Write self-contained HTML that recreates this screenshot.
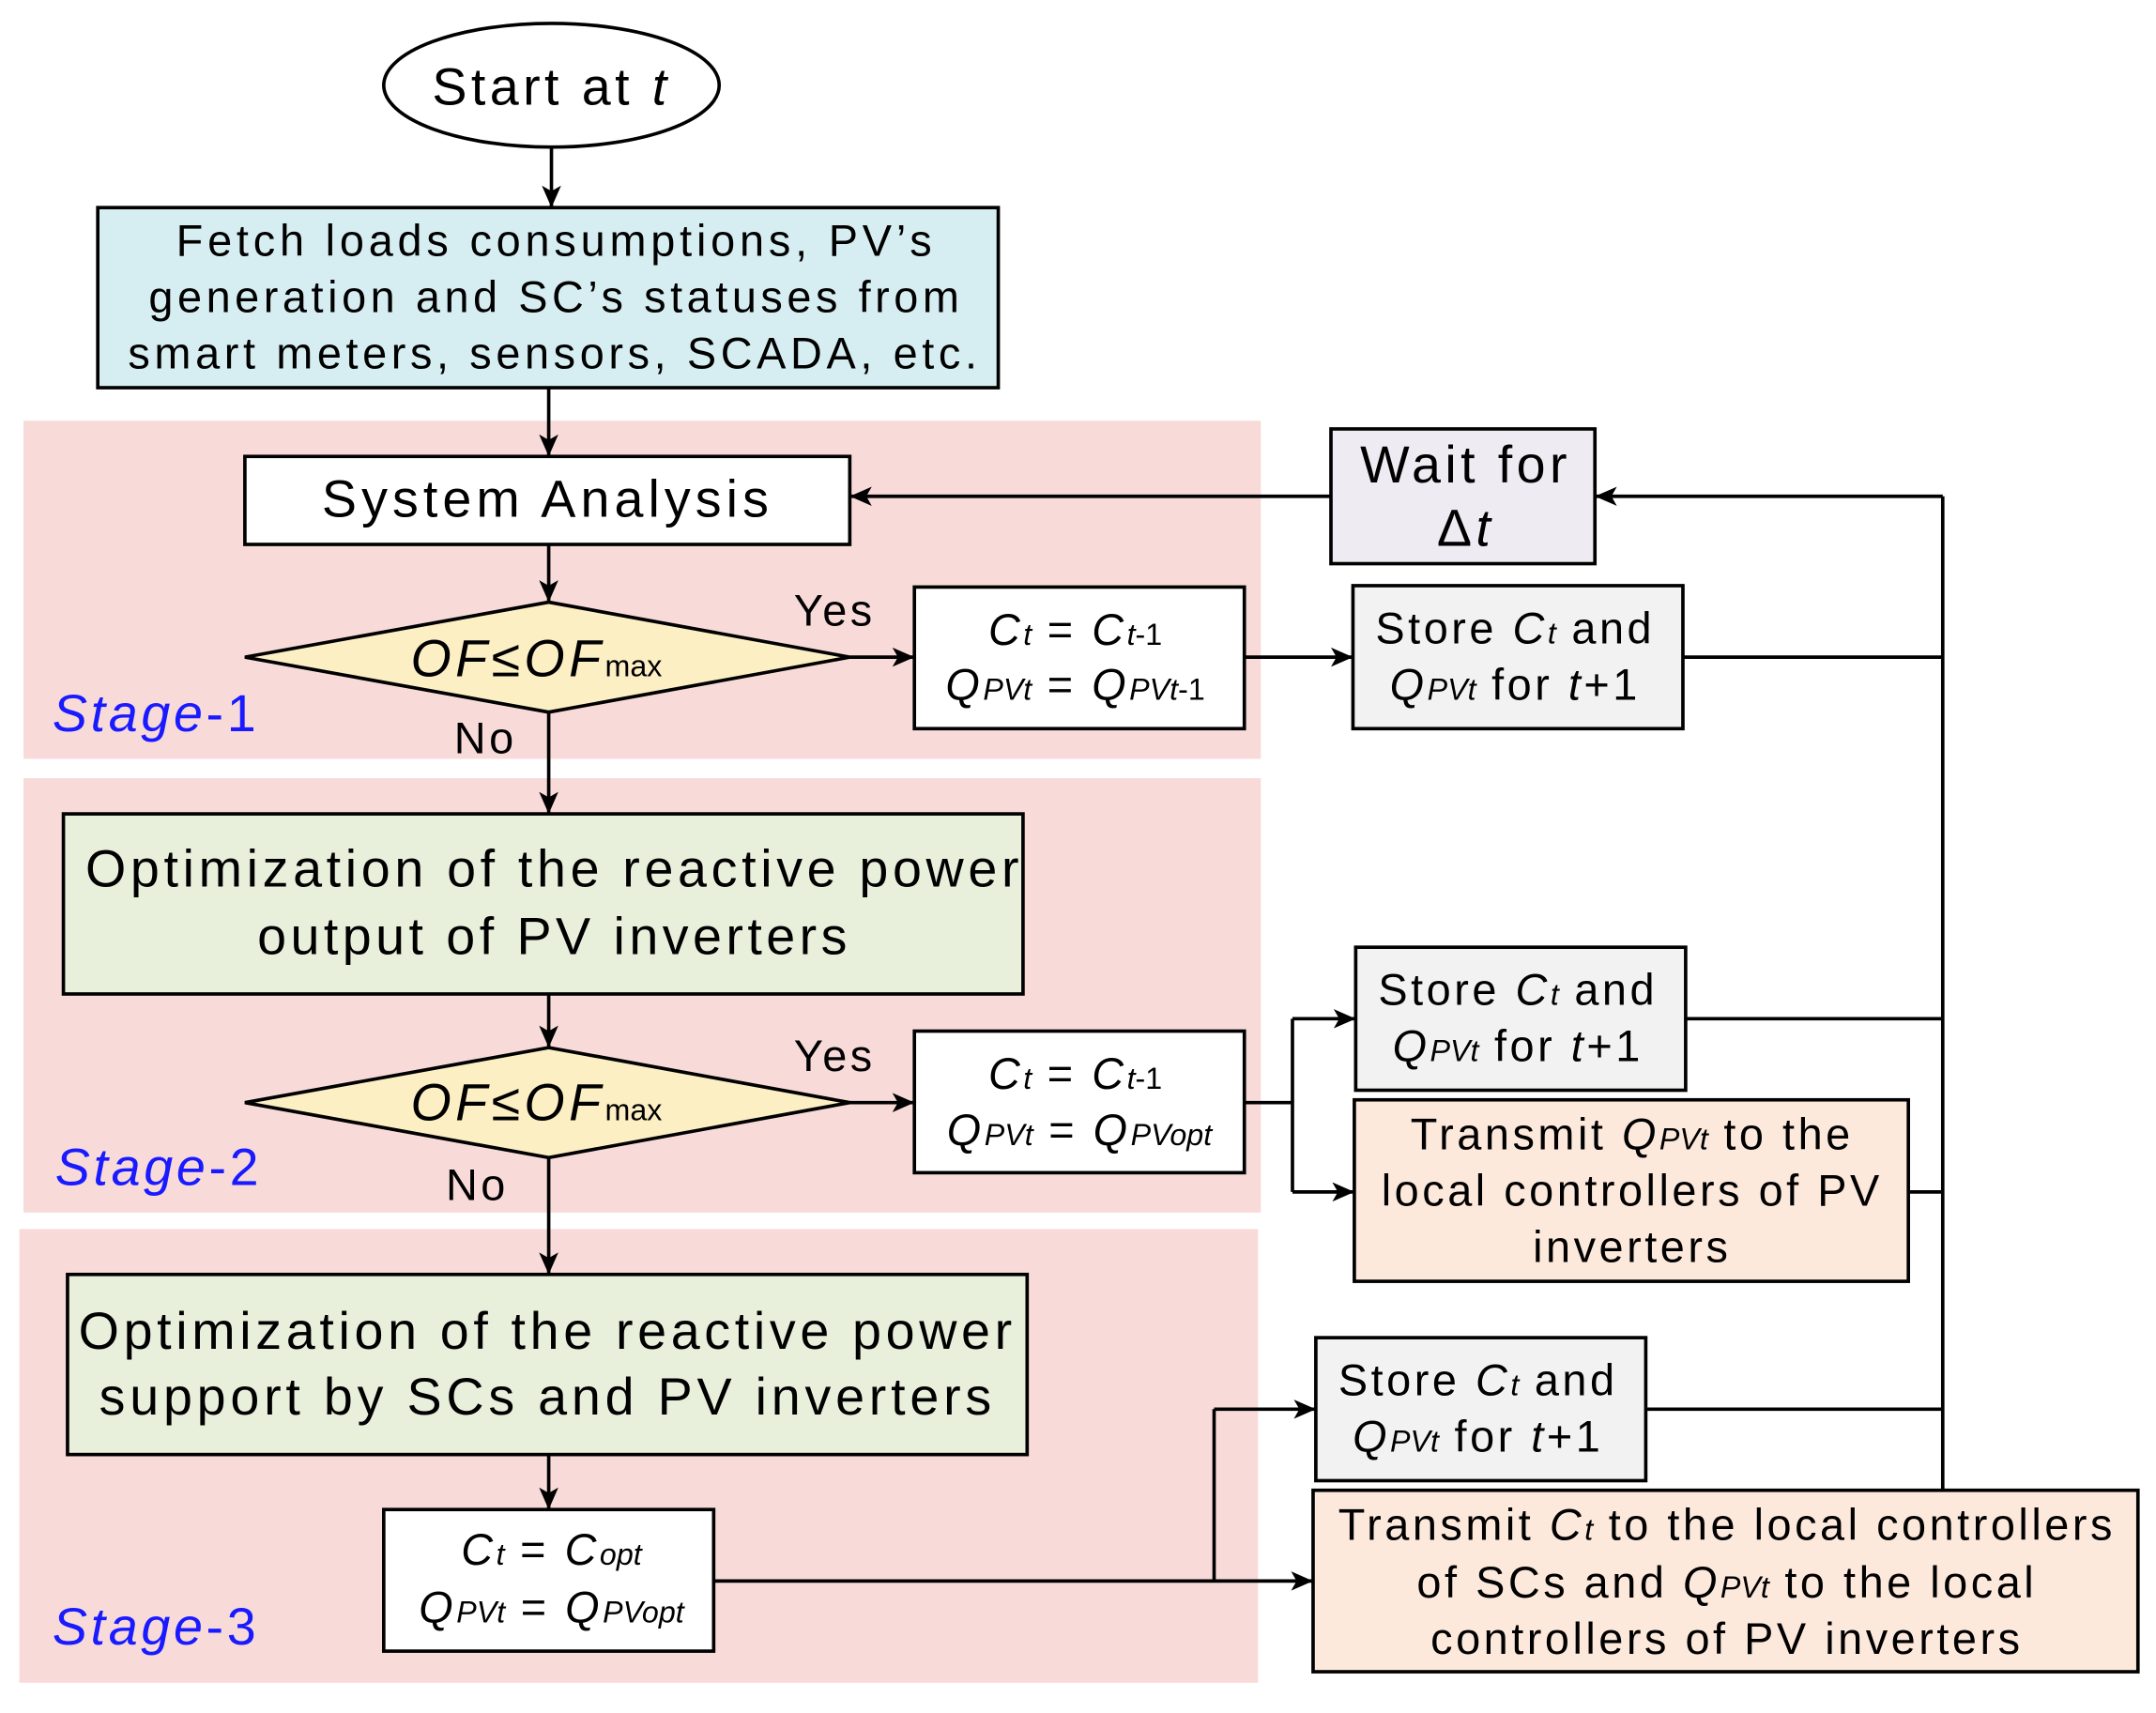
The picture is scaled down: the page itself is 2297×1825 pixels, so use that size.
<!DOCTYPE html>
<html><head><style>
html,body{margin:0;padding:0;background:#fff;}
svg{display:block;}
text{font-family:"Liberation Sans",Arial,sans-serif;fill:#000;}
</style></head><body>
<svg width="2297" height="1825" viewBox="0 0 1568 1246" xmlns="http://www.w3.org/2000/svg">
<defs>
<marker id="a" markerWidth="16" markerHeight="14" refX="15" refY="7" orient="auto" markerUnits="userSpaceOnUse" viewBox="0 0 16 14">
<path d="M0,0 L16,7 L0,14 L4,7 Z" fill="#000"/></marker>
</defs>
<style>
.l{stroke:#000;stroke-width:2.5;fill:none}
.b{stroke:#000;stroke-width:2.5}
.t{font-size:32px;text-anchor:middle;letter-spacing:2.4px}
.big{font-size:38px;letter-spacing:3px}
.i{font-style:italic}
.s{font-size:22px;letter-spacing:0}
.st{font-size:38px;fill:#1a1aff;font-style:italic;letter-spacing:2.5px}
</style>
<rect x="17" y="306" width="900" height="246" fill="#f8dbd9"/>
<rect x="17" y="566" width="900" height="316" fill="#f8dbd9"/>
<rect x="14" y="894" width="901" height="330" fill="#f8dbd9"/>

<ellipse cx="401" cy="62" rx="122" ry="45" fill="#fff" class="b"/>
<text x="401" y="76" class="t big">Start at <tspan class="i">t</tspan></text>
<line x1="401" y1="107" x2="401" y2="150" class="l" marker-end="url(#a)"/>

<rect x="71" y="151" width="655" height="131" fill="#d6eef2" class="b"/>
<text x="404" y="186" class="t" textLength="552" lengthAdjust="spacing">Fetch loads consumptions, PV’s</text>
<text x="404" y="227" class="t" textLength="592" lengthAdjust="spacing">generation and SC’s statuses from</text>
<text x="403" y="268" class="t" textLength="620" lengthAdjust="spacing">smart meters, sensors, SCADA, etc.</text>
<line x1="399" y1="282" x2="399" y2="331" class="l" marker-end="url(#a)"/>

<rect x="178" y="332" width="440" height="64" fill="#fff" class="b"/>
<text x="398" y="376" class="t big" textLength="328" lengthAdjust="spacing">System Analysis</text>
<line x1="399" y1="396" x2="399" y2="437" class="l" marker-end="url(#a)"/>

<polygon points="178,478 399,438 618,478 399,518" fill="#fdefc4" class="b"/>
<text x="390" y="492" class="t i big">OF≤OF<tspan class="s" style="font-style:normal">max</tspan></text>
<text x="607" y="455" class="t">Yes</text>
<line x1="618" y1="478" x2="664" y2="478" class="l" marker-end="url(#a)"/>
<rect x="665" y="427" width="240" height="103" fill="#fff" class="b"/>
<text x="782" y="469" class="t"><tspan class="i">C<tspan class="s">t</tspan></tspan> = <tspan class="i">C<tspan class="s">t</tspan></tspan><tspan class="s">-1</tspan></text>
<text x="782" y="509" class="t"><tspan class="i">Q<tspan class="s">PVt</tspan></tspan> = <tspan class="i">Q<tspan class="s">PVt</tspan></tspan><tspan class="s">-1</tspan></text>
<line x1="905" y1="478" x2="983" y2="478" class="l" marker-end="url(#a)"/>
<rect x="984" y="426" width="240" height="104" fill="#f2f2f2" class="b"/>
<text x="1102" y="468" class="t">Store <tspan class="i">C<tspan class="s">t</tspan></tspan> and</text>
<text x="1102" y="509" class="t"><tspan class="i">Q<tspan class="s">PVt</tspan></tspan> for <tspan class="i">t</tspan>+1</text>
<line x1="1224" y1="478" x2="1413" y2="478" class="l"/>

<rect x="968" y="312" width="192" height="98" fill="#efebf2" class="b"/>
<text x="1066" y="351" class="t big">Wait for</text>
<text x="1066" y="397" class="t big">Δ<tspan class="i">t</tspan></text>
<line x1="968" y1="361" x2="619" y2="361" class="l" marker-end="url(#a)"/>
<line x1="1413" y1="361" x2="1413" y2="1084" class="l"/>
<line x1="1413" y1="361" x2="1161" y2="361" class="l" marker-end="url(#a)"/>

<text x="38" y="532" class="st">Stage<tspan style="font-style:normal">-1</tspan></text>
<text x="353" y="548" class="t">No</text>
<line x1="399" y1="518" x2="399" y2="591" class="l" marker-end="url(#a)"/>

<rect x="46" y="592" width="698" height="131" fill="#e8f0dc" class="b"/>
<text x="403" y="645" class="t big" textLength="682" lengthAdjust="spacing">Optimization of the reactive power</text>
<text x="403" y="694" class="t big" textLength="432" lengthAdjust="spacing">output of PV inverters</text>
<line x1="399" y1="723" x2="399" y2="761" class="l" marker-end="url(#a)"/>

<polygon points="178,802 399,762 618,802 399,842" fill="#fdefc4" class="b"/>
<text x="390" y="815" class="t i big">OF≤OF<tspan class="s" style="font-style:normal">max</tspan></text>
<text x="607" y="779" class="t">Yes</text>
<line x1="618" y1="802" x2="664" y2="802" class="l" marker-end="url(#a)"/>
<rect x="665" y="750" width="240" height="103" fill="#fff" class="b"/>
<text x="782" y="792" class="t"><tspan class="i">C<tspan class="s">t</tspan></tspan> = <tspan class="i">C<tspan class="s">t</tspan></tspan><tspan class="s">-1</tspan></text>
<text x="785" y="833" class="t"><tspan class="i">Q<tspan class="s">PVt</tspan></tspan> = <tspan class="i">Q<tspan class="s">PVopt</tspan></tspan></text>
<line x1="905" y1="802" x2="940" y2="802" class="l"/>
<line x1="940" y1="741" x2="940" y2="867" class="l"/>
<line x1="940" y1="741" x2="985" y2="741" class="l" marker-end="url(#a)"/>
<line x1="940" y1="867" x2="984" y2="867" class="l" marker-end="url(#a)"/>
<rect x="986" y="689" width="240" height="104" fill="#f2f2f2" class="b"/>
<text x="1104" y="731" class="t">Store <tspan class="i">C<tspan class="s">t</tspan></tspan> and</text>
<text x="1104" y="772" class="t"><tspan class="i">Q<tspan class="s">PVt</tspan></tspan> for <tspan class="i">t</tspan>+1</text>
<line x1="1226" y1="741" x2="1413" y2="741" class="l"/>
<rect x="985" y="800" width="403" height="132" fill="#fde9dc" class="b"/>
<text x="1187" y="836" class="t">Transmit <tspan class="i">Q<tspan class="s">PVt</tspan></tspan> to the</text>
<text x="1187" y="877" class="t">local controllers of PV</text>
<text x="1187" y="918" class="t">inverters</text>
<line x1="1388" y1="867" x2="1413" y2="867" class="l"/>

<text x="40" y="862" class="st">Stage<tspan style="font-style:normal">-2</tspan></text>
<text x="347" y="873" class="t">No</text>
<line x1="399" y1="842" x2="399" y2="926" class="l" marker-end="url(#a)"/>

<rect x="49" y="927" width="698" height="131" fill="#e8f0dc" class="b"/>
<text x="398" y="981" class="t big" textLength="682" lengthAdjust="spacing">Optimization of the reactive power</text>
<text x="398" y="1029" class="t big" textLength="652" lengthAdjust="spacing">support by SCs and PV inverters</text>
<line x1="399" y1="1058" x2="399" y2="1097" class="l" marker-end="url(#a)"/>

<rect x="279" y="1098" width="240" height="103" fill="#fff" class="b"/>
<text x="401" y="1138" class="t"><tspan class="i">C<tspan class="s">t</tspan></tspan> = <tspan class="i">C<tspan class="s">opt</tspan></tspan></text>
<text x="401" y="1180" class="t"><tspan class="i">Q<tspan class="s">PVt</tspan></tspan> = <tspan class="i">Q<tspan class="s">PVopt</tspan></tspan></text>
<line x1="519" y1="1150" x2="954" y2="1150" class="l" marker-end="url(#a)"/>
<line x1="883" y1="1025" x2="883" y2="1150" class="l"/>
<line x1="883" y1="1025" x2="956" y2="1025" class="l" marker-end="url(#a)"/>
<rect x="957" y="973" width="240" height="104" fill="#f2f2f2" class="b"/>
<text x="1075" y="1015" class="t">Store <tspan class="i">C<tspan class="s">t</tspan></tspan> and</text>
<text x="1075" y="1056" class="t"><tspan class="i">Q<tspan class="s">PVt</tspan></tspan> for <tspan class="i">t</tspan>+1</text>
<line x1="1197" y1="1025" x2="1413" y2="1025" class="l"/>
<rect x="955" y="1084" width="600" height="132" fill="#fde9dc" class="b"/>
<text x="1256" y="1120" class="t">Transmit <tspan class="i">C<tspan class="s">t</tspan></tspan> to the local controllers</text>
<text x="1256" y="1162" class="t">of SCs and <tspan class="i">Q<tspan class="s">PVt</tspan></tspan> to the local</text>
<text x="1256" y="1203" class="t">controllers of PV inverters</text>

<text x="38" y="1196" class="st">Stage<tspan style="font-style:normal">-3</tspan></text>
</svg>
</body></html>
